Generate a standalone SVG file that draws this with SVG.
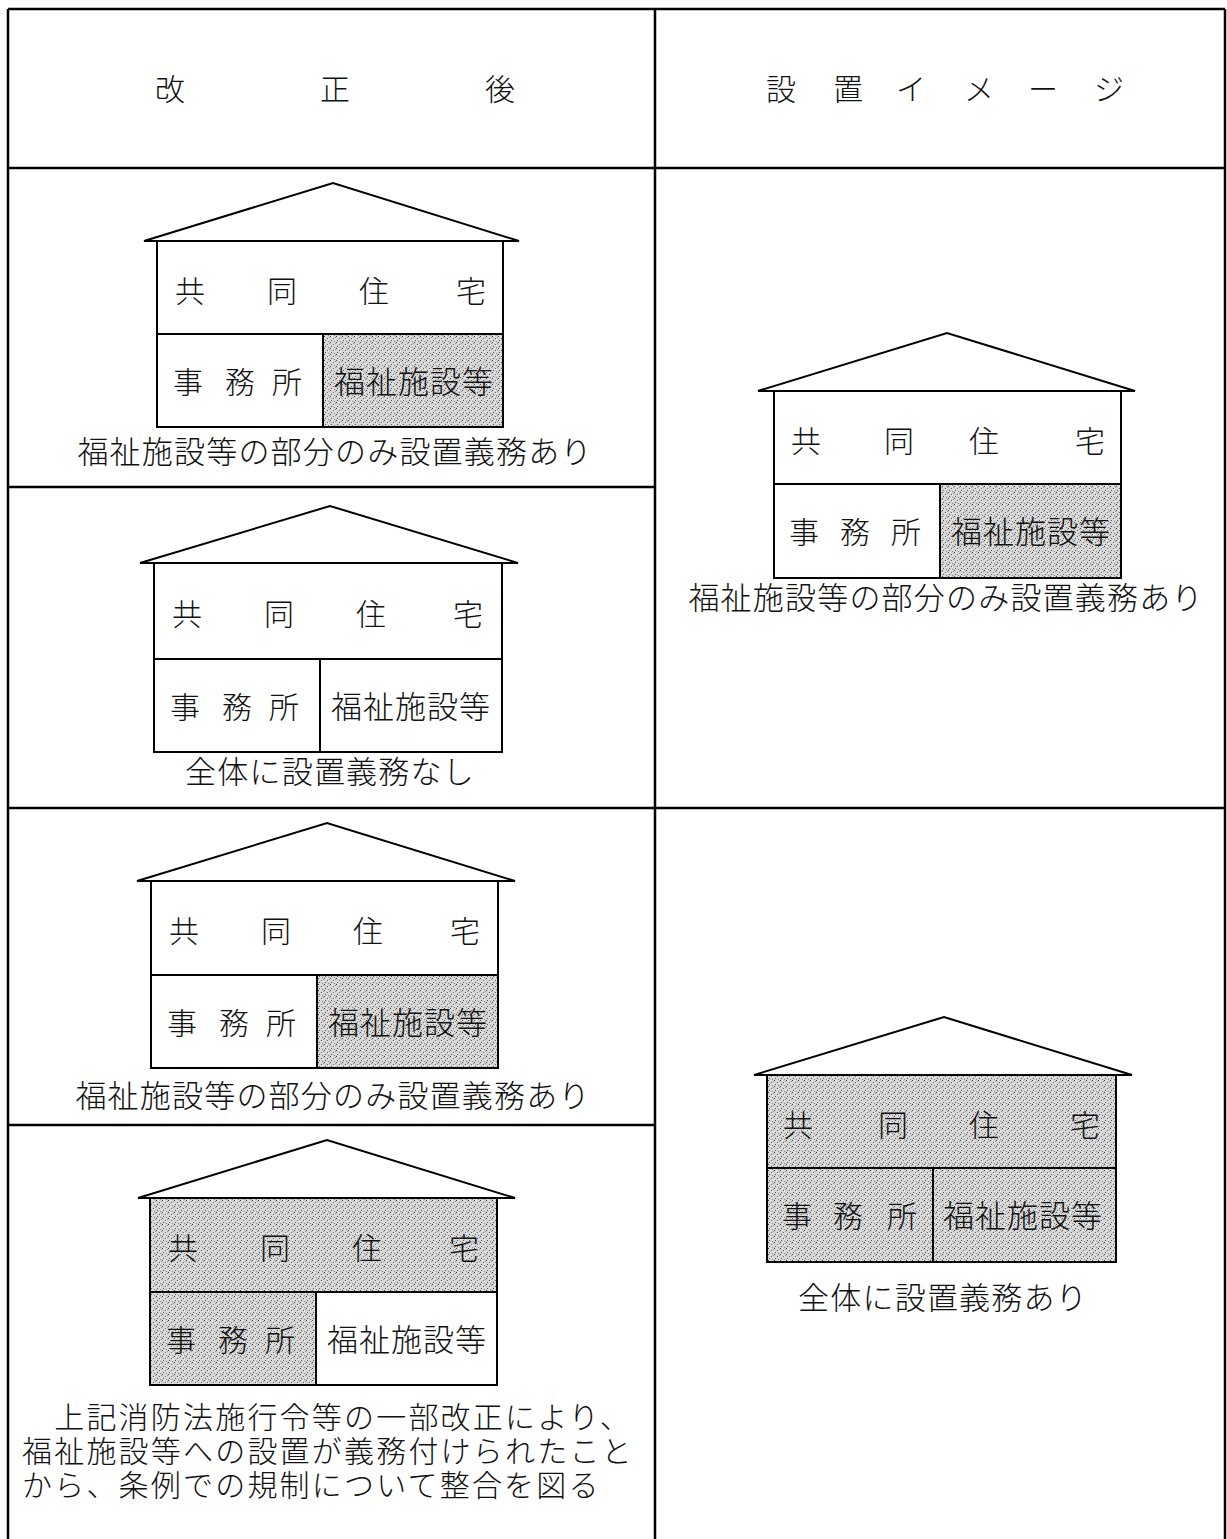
<svg xmlns="http://www.w3.org/2000/svg" width="1227" height="1539" viewBox="0 0 1227 1539">
<style>
.t{font-family:"Noto Sans CJK JP","Noto Sans CJK SC",sans-serif;fill:#111;font-weight:300}
.h{font-size:30px}
.hm{font-size:30px;text-anchor:middle}
.f{font-size:31px;letter-spacing:1px}
.cap{font-size:31px;letter-spacing:1.2px;text-anchor:middle}
.para{font-size:30px;letter-spacing:2.2px}
.tl{stroke:#000;stroke-width:2.5;fill:none}
.roof{stroke:#000;stroke-width:2;fill:#fff;stroke-linejoin:miter}
.wall{stroke:#000;stroke-width:2;fill:#fff}
.sh{stroke:#000;stroke-width:2;fill:url(#stip)}
</style>
<defs>
<pattern id="stip" width="6" height="6" patternUnits="userSpaceOnUse">
<rect width="6" height="6" fill="#d6d6d6"/>
<rect x="0" y="0" width="1" height="1" fill="#4a4a4a"/>
<rect x="3" y="2" width="1" height="1" fill="#6a6a6a"/>
<rect x="1" y="4" width="1" height="1" fill="#5a5a5a"/>
<rect x="4" y="5" width="1" height="1" fill="#888"/>
<rect x="5" y="1" width="1" height="1" fill="#999"/>
<rect x="2" y="0" width="1" height="1" fill="#eee"/>
<rect x="4" y="3" width="1" height="1" fill="#f2f2f2"/>
</pattern>
</defs>
<rect width="1227" height="1539" fill="#fff"/>
<g id="table">
<line class="tl" x1="8" y1="9" x2="1225" y2="9"/>
<line class="tl" x1="8" y1="9" x2="8" y2="1539"/>
<line class="tl" x1="1225" y1="9" x2="1225" y2="1539"/>
<line class="tl" x1="655" y1="9" x2="655" y2="1539"/>
<line class="tl" x1="8" y1="168" x2="1225" y2="168"/>
<line class="tl" x1="8" y1="487" x2="655" y2="487" stroke-width="1.8"/>
<line class="tl" x1="8" y1="808" x2="1225" y2="808"/>
<line class="tl" x1="8" y1="1125" x2="655" y2="1125" stroke-width="1.8"/>
</g>
<g id="header-left">
<text class="t hm" x="170" y="100">改</text>
<text class="t hm" x="335" y="100">正</text>
<text class="t hm" x="500" y="100">後</text>
</g>
<g id="header-right">
<text class="t hm" x="781" y="100">設</text>
<text class="t hm" x="848" y="100">置</text>
<text class="t hm" x="911" y="100">イ</text>
<text class="t hm" x="979" y="100">メ</text>
<text class="t hm" x="1043" y="100">ー</text>
<text class="t hm" x="1109" y="100">ジ</text>
</g>
<g id="house-left-1">
<polygon class="roof" points="144,241 333,183 519,241"/>
<rect class="wall" x="157" y="241" width="346" height="93"/>
<rect class="wall" x="157" y="334" width="166" height="93"/>
<rect class="sh" x="323" y="334" width="180" height="93"/>
<text class="t hm" x="190" y="302">共</text><text class="t hm" x="282" y="302">同</text><text class="t hm" x="374" y="302">住</text><text class="t hm" x="471" y="302">宅</text>
<text class="t hm" x="188" y="393">事</text><text class="t hm" x="240" y="393">務</text><text class="t hm" x="287" y="393">所</text>
<text class="t f" x="334" y="393">福祉施設等</text>
<text class="t cap" x="335" y="463">福祉施設等の部分のみ設置義務あり</text>
</g>
<g id="house-left-2">
<polygon class="roof" points="140,563 330,506 518,563"/>
<rect class="wall" x="154" y="563" width="348" height="96"/>
<rect class="wall" x="154" y="659" width="166" height="93"/>
<rect class="wall" x="320" y="659" width="182" height="93"/>
<text class="t hm" x="187" y="625">共</text><text class="t hm" x="279" y="625">同</text><text class="t hm" x="371" y="625">住</text><text class="t hm" x="468" y="625">宅</text>
<text class="t hm" x="185" y="718">事</text><text class="t hm" x="237" y="718">務</text><text class="t hm" x="284" y="718">所</text>
<text class="t f" x="331" y="718">福祉施設等</text>
<text class="t cap" x="330" y="783">全体に設置義務なし</text>
</g>
<g id="house-left-3">
<polygon class="roof" points="137,881 327,823 515,881"/>
<rect class="wall" x="151" y="881" width="347" height="94"/>
<rect class="wall" x="151" y="975" width="166" height="93"/>
<rect class="sh" x="317" y="975" width="181" height="93"/>
<text class="t hm" x="184" y="942">共</text><text class="t hm" x="276" y="942">同</text><text class="t hm" x="368" y="942">住</text><text class="t hm" x="465" y="942">宅</text>
<text class="t hm" x="182" y="1034">事</text><text class="t hm" x="234" y="1034">務</text><text class="t hm" x="281" y="1034">所</text>
<text class="t f" x="328" y="1034">福祉施設等</text>
<text class="t cap" x="333" y="1107">福祉施設等の部分のみ設置義務あり</text>
</g>
<g id="house-left-4">
<polygon class="roof" points="138,1198 327,1140 515,1198"/>
<rect class="sh" x="150" y="1198" width="347" height="94"/>
<rect class="sh" x="150" y="1292" width="166" height="93"/>
<rect class="wall" x="316" y="1292" width="181" height="93"/>
<text class="t hm" x="183" y="1259">共</text><text class="t hm" x="275" y="1259">同</text><text class="t hm" x="367" y="1259">住</text><text class="t hm" x="464" y="1259">宅</text>
<text class="t hm" x="181" y="1351">事</text><text class="t hm" x="233" y="1351">務</text><text class="t hm" x="280" y="1351">所</text>
<text class="t f" x="327" y="1351">福祉施設等</text>
</g>
<g id="note">
<text class="t para"><tspan x="22" y="1428">　上記消防法施行令等の一部改正により、</tspan><tspan x="22" y="1462">福祉施設等への設置が義務付けられたこと</tspan><tspan x="22" y="1496">から、条例での規制について整合を図る</tspan></text>
</g>
<g id="house-right-1">
<polygon class="roof" points="758,391 947,333 1135,391"/>
<rect class="wall" x="774" y="391" width="347" height="93"/>
<rect class="wall" x="774" y="484" width="166" height="94"/>
<rect class="sh" x="940" y="484" width="181" height="94"/>
<text class="t hm" x="806" y="452">共</text><text class="t hm" x="899" y="452">同</text><text class="t hm" x="984" y="452">住</text><text class="t hm" x="1090" y="452">宅</text>
<text class="t hm" x="804" y="543">事</text><text class="t hm" x="855" y="543">務</text><text class="t hm" x="906" y="543">所</text>
<text class="t f" x="951" y="543">福祉施設等</text>
<text class="t cap" x="946" y="609">福祉施設等の部分のみ設置義務あり</text>
</g>
<g id="house-right-2">
<polygon class="roof" points="754,1075 944,1017 1132,1075"/>
<rect class="sh" x="767" y="1075" width="349" height="93"/>
<rect class="sh" x="767" y="1168" width="166" height="94"/>
<rect class="sh" x="933" y="1168" width="183" height="94"/>
<text class="t hm" x="798" y="1136">共</text><text class="t hm" x="893" y="1136">同</text><text class="t hm" x="984" y="1136">住</text><text class="t hm" x="1085" y="1136">宅</text>
<text class="t hm" x="797" y="1227">事</text><text class="t hm" x="848" y="1227">務</text><text class="t hm" x="902" y="1227">所</text>
<text class="t f" x="943" y="1227">福祉施設等</text>
<text class="t cap" x="943" y="1309">全体に設置義務あり</text>
</g>
</svg>
